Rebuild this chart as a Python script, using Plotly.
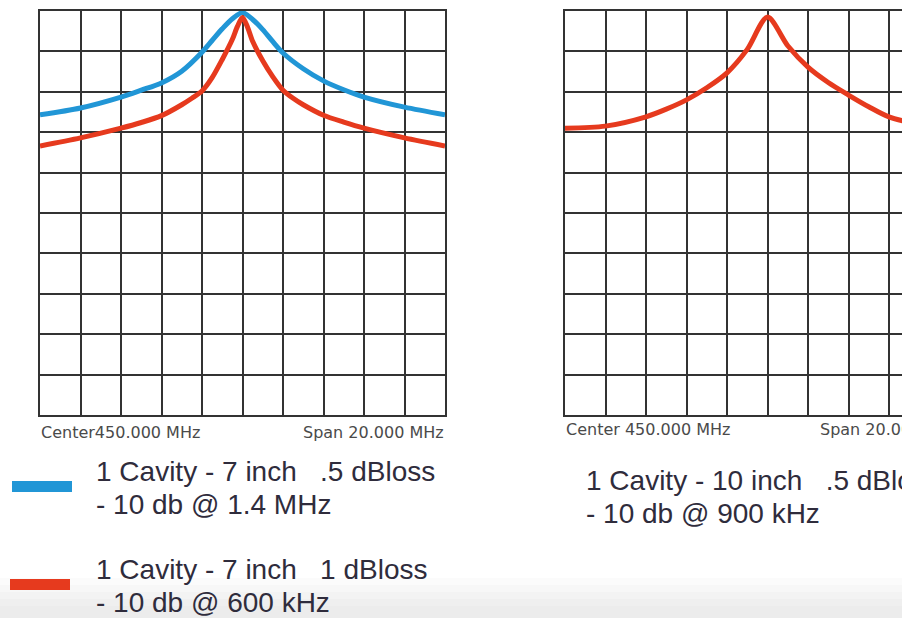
import plotly.graph_objects as go

# ---- data (frequency offset from 450.000 MHz in MHz, level in dB, 10 dB/div) ----
blue7_f = [-10, -8, -6, -5, -4, -3, -2, -1.5, -1, -0.5, 0,
           0.5, 1, 1.5, 2, 3, 4, 5, 6, 8, 10]
blue7_db = [-25.7, -24.0, -21.3, -19.6, -17.8, -14.9, -10.2, -7.3, -4.4, -1.9, -0.4,
            -2.1, -4.6, -7.6, -10.4, -14.3, -17.3, -19.5, -21.3, -23.8, -25.7]

red7_f = [-10, -8, -6, -5, -4, -3, -2.5, -2, -1.5, -1, -0.5, -0.25, 0,
          0.25, 0.5, 1, 1.5, 2, 2.5, 3, 4, 5, 6, 8, 10]
red7_db = [-33.4, -31.4, -29.0, -27.6, -25.9, -23.2, -21.6, -19.8, -16.5, -12.0, -7.0, -3.8, -1.6,
           -4.0, -7.5, -12.3, -16.3, -19.6, -21.6, -23.2, -25.8, -27.5, -29.0, -31.4, -33.4]

red10_f = [-10, -8, -6, -5, -4, -3, -2, -1, 0, 1, 2, 3, 4, 5, 6, 8, 10]
red10_db = [-29.0, -28.5, -26.2, -24.3, -22.0, -19.0, -15.3, -9.5, -1.5,
            -8.6, -13.9, -17.7, -20.8, -23.7, -26.2, -28.5, -29.0]

center_label = "Center450.000 MHz"
center_label2 = "Center 450.000 MHz"
span_label = "Span 20.000 MHz"
leg_blue7 = ["1 Cavity - 7 inch \u00a0 .5 dBloss", "- 10 db @ 1.4 MHz"]
leg_red7 = ["1 Cavity - 7 inch \u00a0 1 dBloss", "- 10 db @ 600 kHz"]
leg_red10 = ["1 Cavity - 10 inch \u00a0 .5 dBloss", "- 10 db @ 900 kHz"]

BLUE = "#2196d6"
RED = "#e63a1e"
GRID = "#333333"
TXT = "#2f2c3c"

W, H = 902, 618
def px(x): return x / W
def py(y): return 1 - y / H

fig = go.Figure()
lw = 5
fig.add_trace(go.Scatter(x=blue7_f, y=blue7_db, mode="lines", xaxis="x", yaxis="y",
                         line=dict(color=BLUE, width=lw, shape="spline", smoothing=0.8)))
fig.add_trace(go.Scatter(x=red7_f, y=red7_db, mode="lines", xaxis="x", yaxis="y",
                         line=dict(color=RED, width=lw, shape="spline", smoothing=0.8)))
fig.add_trace(go.Scatter(x=red10_f, y=red10_db, mode="lines", xaxis="x2", yaxis="y2",
                         line=dict(color=RED, width=lw, shape="spline", smoothing=0.8)))

ydom = [py(415), py(11)]
axcommon = dict(showgrid=True, gridcolor=GRID, gridwidth=2, zeroline=False,
                showticklabels=False, ticks="", showline=True, linecolor=GRID, linewidth=2)
fig.update_layout(
    width=W, height=H, margin=dict(l=0, r=0, t=0, b=0),
    paper_bgcolor="white", plot_bgcolor="white", showlegend=False,
    xaxis=dict(domain=[px(40), px(445)], range=[-10, 10], dtick=2, mirror=True, **axcommon),
    yaxis=dict(domain=ydom, range=[-100, 0], dtick=10, mirror=True, **axcommon),
    xaxis2=dict(domain=[px(565), 1.0], range=[-10, -10 + 2 * (902 - 565) / 40.5], dtick=2,
                mirror=True, anchor="y2", **axcommon),
    yaxis2=dict(domain=ydom, range=[-100, 0], dtick=10, anchor="x2", mirror=False, **axcommon),
)

shapes = []
# bottom grey fade of the screenshot
greys = ["#fbfbfb", "#f7f7f7", "#f3f3f3", "#efefef", "#ececec"]
for i, g in enumerate(greys):
    shapes.append(dict(type="rect", xref="paper", yref="paper", x0=0, x1=1,
                       y0=0, y1=py(578 + i * 7), fillcolor=g, line_width=0, layer="below"))
# legend swatches
shapes.append(dict(type="rect", xref="paper", yref="paper", x0=px(12), x1=px(72),
                   y0=py(492), y1=py(481), fillcolor=BLUE, line_width=0))
shapes.append(dict(type="rect", xref="paper", yref="paper", x0=px(10), x1=px(70),
                   y0=py(590), y1=py(579), fillcolor=RED, line_width=0))
fig.update_layout(shapes=shapes)

ann = []
small = dict(family="DejaVu Sans", size=16, color="#4a4a4a")
ann.append(dict(x=px(39), y=py(432), text=center_label, xanchor="left", yanchor="middle", font=small))
ann.append(dict(x=px(446), y=py(432), text=span_label, xanchor="right", yanchor="middle", font=small))
ann.append(dict(x=px(564), y=py(429), text=center_label2, xanchor="left", yanchor="middle", font=small))
ann.append(dict(x=px(818), y=py(429), text=span_label, xanchor="left", yanchor="middle", font=small))

big = dict(family="Liberation Sans", size=28, color=TXT)
for lines, x0, y0 in [(leg_blue7, 94, 471), (leg_red7, 94, 569), (leg_red10, 584, 480)]:
    for k, t in enumerate(lines):
        ann.append(dict(x=px(x0), y=py(y0 + k * 33), text=t, xanchor="left",
                        yanchor="middle", font=big))
for a in ann:
    a.update(xref="paper", yref="paper", showarrow=False)
fig.update_layout(annotations=ann)

fig.write_html("out.html")
